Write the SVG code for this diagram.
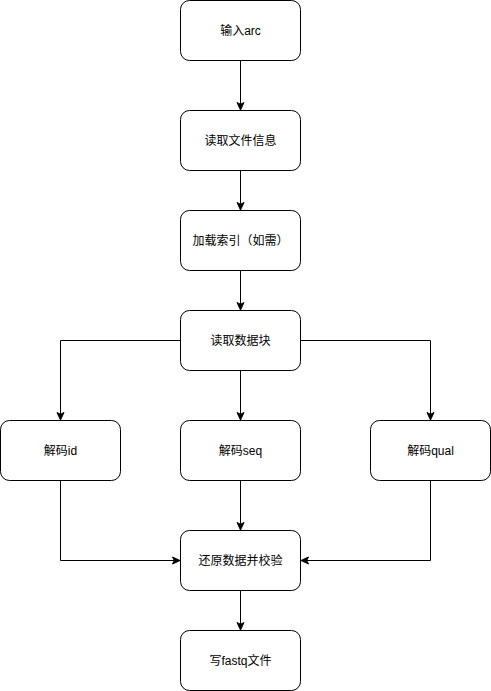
<svg xmlns="http://www.w3.org/2000/svg" width="491" height="691" viewBox="0 0 491 691">
<style>
.n rect{fill:#fff;stroke:#000;stroke-width:1}
.n text{font-family:"Liberation Sans","Noto Sans CJK SC",sans-serif;font-size:12px;fill:#000;text-anchor:middle;dominant-baseline:central}
.c path{fill:none;stroke:#000;stroke-width:1}
</style>
<defs>
<marker id="a" markerUnits="userSpaceOnUse" markerWidth="10" markerHeight="10" viewBox="0 0 10 10" refX="9" refY="5" orient="auto">
<path d="M1.5,1.5 L9,5 L1.5,8.5 L3.3,5 Z" fill="#000" stroke="#000" stroke-width="1"/>
</marker>
</defs>
<rect width="491" height="691" fill="#fff"/>
<g class="c">
<path d="M240.5,60.5 V110" marker-end="url(#a)"/>
<path d="M240.5,170.5 V210" marker-end="url(#a)"/>
<path d="M240.5,270.5 V310" marker-end="url(#a)"/>
<path d="M180.5,340.5 H60.5 V420" marker-end="url(#a)"/>
<path d="M240.5,370.5 V420" marker-end="url(#a)"/>
<path d="M300.5,340.5 H430.5 V420" marker-end="url(#a)"/>
<path d="M60.5,480.5 V560.5 H180" marker-end="url(#a)"/>
<path d="M240.5,480.5 V530" marker-end="url(#a)"/>
<path d="M430.5,480.5 V560.5 H301" marker-end="url(#a)"/>
<path d="M240.5,590.5 V630" marker-end="url(#a)"/>
</g>
<g id="n1" class="n"><rect x="180.5" y="0.5" width="120" height="60" rx="9"/><text x="240.5" y="30.5">输入arc</text></g>
<g id="n2" class="n"><rect x="180.5" y="110.5" width="120" height="60" rx="9"/><text x="240.5" y="140.5">读取文件信息</text></g>
<g id="n3" class="n"><rect x="180.5" y="210.5" width="120" height="60" rx="9"/><text x="240.5" y="240.5">加载索引（如需）</text></g>
<g id="n4" class="n"><rect x="180.5" y="310.5" width="120" height="60" rx="9"/><text x="240.5" y="340.5">读取数据块</text></g>
<g id="n5" class="n"><rect x="0.5" y="420.5" width="120" height="60" rx="9"/><text x="60.5" y="450.5">解码id</text></g>
<g id="n6" class="n"><rect x="180.5" y="420.5" width="120" height="60" rx="9"/><text x="240.5" y="450.5">解码seq</text></g>
<g id="n7" class="n"><rect x="370.5" y="420.5" width="120" height="60" rx="9"/><text x="430.5" y="450.5">解码qual</text></g>
<g id="n8" class="n"><rect x="180.5" y="530.5" width="120" height="60" rx="9"/><text x="240.5" y="560.5">还原数据并校验</text></g>
<g id="n9" class="n"><rect x="180.5" y="630.5" width="120" height="60" rx="9"/><text x="240.5" y="660.5">写fastq文件</text></g>
</svg>
